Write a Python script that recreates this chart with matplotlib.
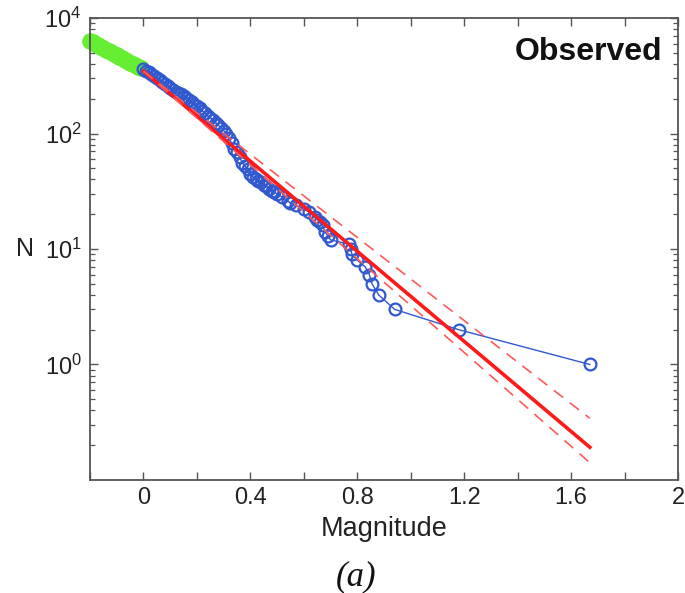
import matplotlib
matplotlib.use("Agg")
import matplotlib.pyplot as plt
import numpy as np
from matplotlib.ticker import LogLocator, NullFormatter

plt.rcParams['font.family'] = ['Liberation Sans', 'DejaVu Sans']
plt.rcParams['mathtext.fontset'] = 'custom'
plt.rcParams['mathtext.rm'] = 'Liberation Sans'

# events below completeness (green), cumulative counts
mag_low = [-0.20, -0.19, -0.18, -0.17, -0.16, -0.15, -0.14, -0.13, -0.12, -0.11,
           -0.10, -0.09, -0.08, -0.07, -0.06, -0.05, -0.04, -0.03, -0.02, -0.01]
n_low = [630, 615, 595, 580, 565, 548, 532, 518, 503, 490,
         476, 462, 449, 437, 424, 412, 401, 390, 379, 370]

# observed cumulative counts above completeness (blue)
mag_obs = [0.00, 0.01, 0.02, 0.03, 0.04, 0.05, 0.06, 0.07, 0.08, 0.09,
           0.10, 0.11, 0.12, 0.13, 0.14, 0.15, 0.16, 0.17, 0.18, 0.19,
           0.20, 0.21, 0.22, 0.23, 0.24, 0.25, 0.26, 0.27, 0.28, 0.29,
           0.30, 0.31, 0.32, 0.33, 0.34, 0.35, 0.36, 0.37, 0.38, 0.39,
           0.40, 0.41, 0.42, 0.43, 0.44, 0.45, 0.46, 0.47, 0.48, 0.49,
           0.50, 0.52, 0.54, 0.55, 0.57, 0.60, 0.62, 0.64, 0.65, 0.66,
           0.67, 0.68, 0.69, 0.70, 0.77, 0.775, 0.78, 0.80, 0.83, 0.845,
           0.855, 0.88, 0.94, 1.18, 1.67]
n_obs = [360, 350, 338, 325, 312, 300, 290, 278, 266, 256,
         246, 238, 231, 225, 220, 212, 204, 195, 186, 178,
         172, 165, 157, 150, 143, 137, 131, 124, 118, 112,
         106, 100, 92, 82, 74, 69, 62, 56, 52, 49,
         45, 42, 40, 39, 38, 36, 35, 33, 32, 31,
         30, 28, 26, 25, 24, 22, 21, 19, 18, 17,
         16, 14, 13, 12, 11, 10, 9, 8, 7, 6,
         5, 4, 3, 2, 1]

# Gutenberg-Richter fit log10(N) = a - b*M, with bounds
a_fit = 2.54
b_fit = 1.95
b_upper = 1.80
b_lower = 2.03
mc, mmax = 0.0, 1.67

fig = plt.figure(figsize=(6.85, 5.93), dpi=100)
ax = fig.add_axes([0.1314, 0.1906, 0.8584, 0.779])

ax.plot(mag_low, n_low, 'o', color='#66ee33', mfc='none', mew=3.0, ms=9,
        zorder=2, clip_on=False)
ax.plot(mag_obs, n_obs, '-o', color='#3159cf', mfc='none', mew=1.6, ms=8.5, lw=1.0, zorder=3)

m = np.array([mc, mmax])
ax.plot(m, 10 ** (a_fit - b_fit * m), '-', color='#ff1a1a', lw=2.6, zorder=4)
ax.plot(m, 10 ** (a_fit - b_upper * m), '--', color='#ff5a5a', lw=1.2, dashes=(7, 5), zorder=4)
ax.plot(m, 10 ** (a_fit - b_lower * m), '--', color='#ff5a5a', lw=1.2, dashes=(7, 5), zorder=4)

ax.set_yscale('log')
ax.set_xlim(-0.2, 2)
ax.set_ylim(0.1, 1000)

xt = [-0.2, 0, 0.2, 0.4, 0.6, 0.8, 1.0, 1.2, 1.4, 1.6, 1.8, 2.0]
ax.set_xticks(xt)
ax.set_xticklabels(['', '0', '', '0.4', '', '0.8', '', '1.2', '', '1.6', '', '2'])

ax.set_yticks([1, 10, 100, 1000])
ax.set_yticklabels([r'$\mathregular{10^{0}}$', r'$\mathregular{10^{1}}$',
                    r'$\mathregular{10^{2}}$', r'$\mathregular{10^{4}}$'])
ax.yaxis.set_minor_locator(LogLocator(base=10, subs=np.arange(2, 10)))
ax.yaxis.set_minor_formatter(NullFormatter())

ax.tick_params(which='both', direction='in', top=True, right=True, color='#555555',
               labelsize=17, labelcolor='#222222')
ax.tick_params(which='major', length=6, width=1.0)
ax.tick_params(which='minor', length=3.5, width=0.9)
ax.tick_params(axis='x', pad=5)
ax.tick_params(axis='y', pad=6)
for s in ax.spines.values():
    s.set_color('#555555')
    s.set_linewidth(1.3)

ax.set_xlabel('Magnitude', fontsize=19.5, color='#222222', labelpad=5)
ax.set_ylabel('N', fontsize=18, rotation=0, color='#222222', labelpad=14, va='center')

ax.text(0.973, 0.958, 'Observed', transform=ax.transAxes, ha='right', va='top',
        fontsize=23, fontweight='bold', color='#111111')

fig.text(0.52, 0.027, '(a)', ha='center', va='center', fontsize=25,
         family='Liberation Serif', style='italic', color='#111111')

fig.savefig('out.png', dpi=100)
